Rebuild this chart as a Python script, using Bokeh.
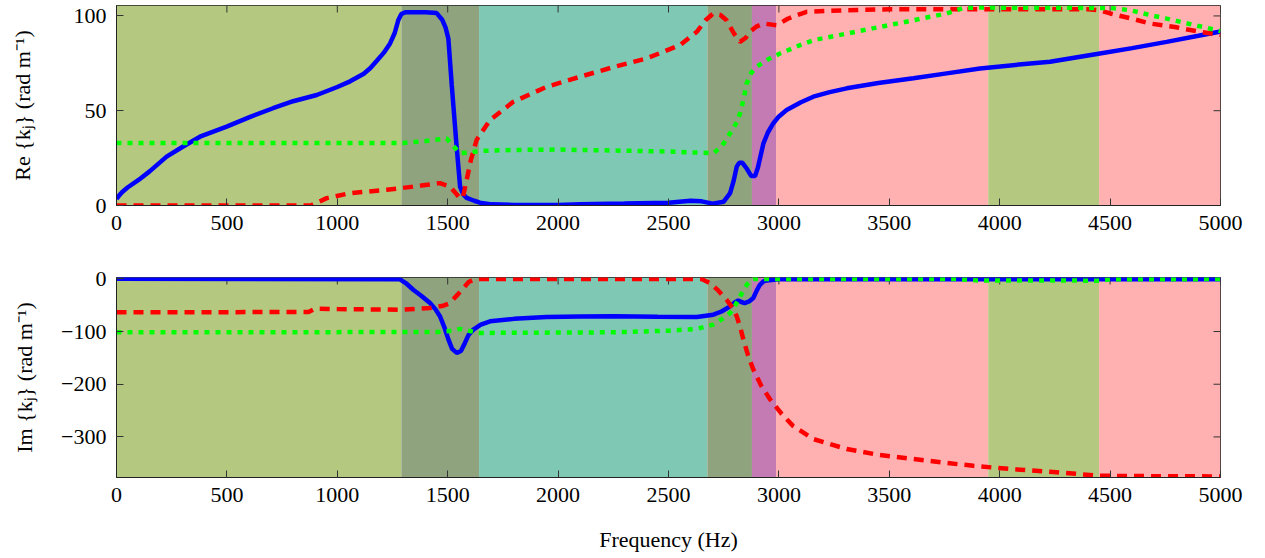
from bokeh.plotting import figure
from bokeh.layouts import column
from bokeh.models import BoxAnnotation, FixedTicker, Range1d
from bokeh.embed import file_html
from bokeh.resources import INLINE

# ---------------- data ----------------
x_ticks = [0, 500, 1000, 1500, 2000, 2500, 3000, 3500, 4000, 4500, 5000]
x_tick_labels = ["0", "500", "1000", "1500", "2000", "2500", "3000", "3500", "4000", "4500", "5000"]
re_ticks = [0, 50, 100]
re_tick_labels = ["0", "50", "100"]
im_ticks = [0, -100, -200, -300]
im_tick_labels = ["0", "\u2212100", "\u2212200", "\u2212300"]

band_left = [0, 1290, 1642, 2676, 2878, 2987, 3948, 4450]
band_right = [1290, 1642, 2676, 2878, 2987, 3948, 4450, 5000]
band_colors = ["#b5c87f", "#8fa37e", "#7fc8b4", "#8fa37e", "#c47bb3", "#ffb1b1", "#b5c87f", "#ffb1b1"]

re_blue_f = [0, 10, 25, 50, 100, 150, 227, 300, 378, 499, 600, 709, 800, 907, 1000, 1058, 1120, 1150, 1178,
             1210, 1239, 1260, 1276, 1290, 1310, 1400, 1450, 1475, 1490, 1503, 1518, 1538, 1556, 1570, 1586,
             1620, 1646, 1700, 1800, 2000, 2100, 2300, 2500, 2600, 2650, 2700, 2750, 2779, 2795, 2809, 2820,
             2835, 2854, 2875, 2892, 2905, 2930, 2950, 2975, 3000, 3035, 3100, 3156, 3230, 3307, 3450, 3609,
             3760, 3911, 4100, 4228, 4454, 4600, 4756, 4900, 5000]
re_blue_v = [3.5, 5, 7, 9.5, 13.5, 18, 25.8, 31, 36.3, 41.6, 46.5, 51.3, 55, 58.3, 62.5, 65.5, 69.5, 72.5, 76.2,
             80.5, 85.5, 91, 97.7, 101, 102, 102, 101.5, 98, 94, 88, 64, 34.6, 10, 6, 4,
             2.5, 1.5, 0.6, 0.3, 0.2, 0.6, 1.0, 1.5, 2.5, 2.2, 1.0, 2.0, 6.5, 13, 20.5, 22.5,
             22.5, 19.5, 15.5, 15.5, 20, 32.8, 38.5, 43.4, 47, 50.4, 54.5, 57.4, 59.8, 61.8, 64.6, 67.1,
             69.7, 72.3, 74.5, 75.8, 80.2, 83, 86.3, 89.5, 91.8]

re_red_f = [0, 880, 910, 952, 1057, 1224, 1284, 1380, 1465, 1510, 1540, 1556, 1570, 1586, 1605, 1631, 1692, 1797,
            1948, 2099, 2250, 2401, 2552, 2628, 2670, 2703, 2735, 2763, 2795, 2824, 2850, 2869, 2900, 2930, 2990,
            3040, 3081, 3126, 3307, 3500, 4400, 4450, 4500, 4600, 4681, 4800, 4907, 5000]
re_red_v = [0, 0, 1.5, 3.9, 6.5, 8.3, 9.1, 10.5, 11.8, 10, 6, 3.5, 5, 13.5, 24, 34.6, 45.1, 54.7,
            62.6, 67.9, 73, 77.6, 84.6, 91.6, 98, 101.3, 100.5, 97.7, 91, 86.3, 88.5, 91.6, 94.5, 96, 95.1,
            98.5, 100.4, 102.2, 103, 103.5, 103.5, 103, 101.3, 98.5, 96, 94, 91.6, 90]

re_green_f = [0, 1300, 1400, 1495, 1520, 1556, 1600, 1646, 1797, 2000, 2250, 2500, 2703, 2740, 2779, 2810, 2824,
              2840, 2854, 2875, 2899, 2950, 3005, 3096, 3156, 3300, 3458, 3600, 3760, 3835, 3900, 4500, 4591,
              4680, 4756, 4870, 4983, 5000]
re_green_v = [33, 33, 34, 35.4, 32, 27.6, 28, 28.8, 29.3, 29.5, 29, 28.5, 27.6, 31, 38.1, 44, 48.6,
              56, 64.4, 70, 73.2, 77, 80.2, 84.6, 87.2, 90.5, 94.2, 97.5, 101.3, 104.2, 104.4, 104.2, 103,
              100.5, 98.6, 95.5, 92.5, 92]

im_blue_f = [0, 1284, 1310, 1344, 1380, 1420, 1445, 1465, 1485, 1503, 1520, 1541, 1560, 1578, 1595, 1616, 1650,
             1692, 1800, 1948, 2100, 2250, 2450, 2628, 2703, 2740, 2779, 2800, 2816, 2830, 2845, 2865, 2884,
             2900, 2914, 2930, 2945, 3000, 5000]
im_blue_v = [0, -1, -8, -20.8, -32, -46, -58, -71, -92, -115, -133, -140.5, -137, -121.6, -106, -96.4, -87,
             -80.7, -76, -72.5, -71.5, -71.2, -72, -72.5, -68, -62, -52.3, -45, -41, -44, -46, -43, -36.5,
             -22, -11.3, -5, -3, -1, -1]

im_red_f = [0, 870, 900, 1000, 1290, 1420, 1480, 1510, 1545, 1571, 1595, 1616, 1650, 2650, 2688, 2725, 2763,
            2790, 2809, 2825, 2839, 2860, 2884, 2920, 2960, 3010, 3064, 3156, 3307, 3450, 3609, 3750, 3881,
            4050, 4228, 4454, 4700, 5000]
im_red_v = [-63.6, -63, -56.7, -57.5, -58.6, -55.5, -51, -46, -30, -17.6, -6, -1.9, -0.5, -0.5, -8.2, -22, -39.7,
            -55, -71.2, -92, -115, -145, -172, -203, -228.7, -255, -279, -304, -323, -334, -342, -349, -354.8,
            -361, -366, -373.7, -374.5, -375]

im_green_f = [0, 1450, 1530, 1556, 1600, 1646, 2000, 2250, 2500, 2628, 2703, 2740, 2779, 2800, 2824, 2854, 2870,
              2884, 3800, 3900, 4450, 4500, 5000]
im_green_v = [-101.5, -101, -98, -95, -99, -102.7, -102, -101.5, -98.5, -95, -87, -77, -65, -52, -33.4, -11.3, -4,
              -0.4, -0.5, -3, -3.5, -1, -0.5]

FONT = "Liberation Serif"
FS = "22px"
X0, X1 = 0, 5000


def style_axis(ax, ticks, labels, standoff):
    ax.ticker = FixedTicker(ticks=ticks)
    ax.major_label_overrides = {t: l for t, l in zip(ticks, labels)}
    ax.major_tick_in = 7
    ax.major_tick_out = 0
    ax.minor_tick_line_color = None
    ax.axis_line_color = "#222222"
    ax.major_tick_line_color = "#333333"
    ax.major_label_text_font = FONT
    ax.major_label_text_color = "black"
    ax.major_label_text_font_size = FS
    ax.major_label_standoff = standoff
    ax.axis_label_text_font = FONT
    ax.axis_label_text_font_size = FS
    ax.axis_label_text_font_style = "normal"
    ax.axis_label_text_color = "black"


def make_fig(y0, y1, yticks, ylabels, frame_h, top_b, bottom_b):
    p = figure(frame_width=1104, frame_height=frame_h, x_range=Range1d(X0, X1), y_range=Range1d(y0, y1),
               output_backend="svg", toolbar_location=None,
               min_border_left=116, min_border_right=25, min_border_top=top_b, min_border_bottom=bottom_b)
    p.grid.visible = False
    p.outline_line_color = "#222222"
    p.outline_line_width = 1
    p.background_fill_color = "white"
    for l, r, c in zip(band_left, band_right, band_colors):
        p.add_layout(BoxAnnotation(left=l, right=r, fill_color=c, fill_alpha=1.0, line_color=None, level="underlay"))
    style_axis(p.xaxis[0], x_ticks, x_tick_labels, 10)
    style_axis(p.yaxis[0], yticks, ylabels, 10)
    # mirrored inward ticks on the top and right frame edges
    p.ray(x=x_ticks, y=[y1] * len(x_ticks), length=7, length_units="screen", angle=-90, angle_units="deg",
          line_color="#333333", line_width=1)
    p.ray(x=[X1] * len(yticks), y=yticks, length=7, length_units="screen", angle=180, angle_units="deg",
          line_color="#333333", line_width=1)
    return p


p1 = make_fig(0, 105.5, re_ticks, re_tick_labels, 200, 5, 54)
p1.yaxis[0].axis_label = "Re {k\u2c7c} (rad m\u207b\u00b9)"
p1.yaxis[0].axis_label_standoff = 36

p1.line(re_blue_f, re_blue_v, line_color="#0000ff", line_width=4.5)
p1.line(re_red_f, re_red_v, line_color="#ff0000", line_width=4.5, line_dash="10 7")
p1.line(re_green_f, re_green_v, line_color="#00ff00", line_width=4.5, line_dash="5 6")

p2 = make_fig(-377, 2.5, im_ticks, im_tick_labels, 200, 18, 75)
p2.yaxis[0].axis_label = "Im {k\u2c7c} (rad m\u207b\u00b9)"
p2.yaxis[0].axis_label_standoff = 21
p2.below[0].axis_label = "Frequency (Hz)"
p2.below[0].axis_label_standoff = 22

p2.line(im_blue_f, im_blue_v, line_color="#0000ff", line_width=4.5)
p2.line(im_red_f, im_red_v, line_color="#ff0000", line_width=4.5, line_dash="10 7")
p2.line(im_green_f, im_green_v, line_color="#00ff00", line_width=4.5, line_dash="5 6")

layout = column(p1, p2, spacing=0)
open("out.html", "w").write(file_html(layout, INLINE))
